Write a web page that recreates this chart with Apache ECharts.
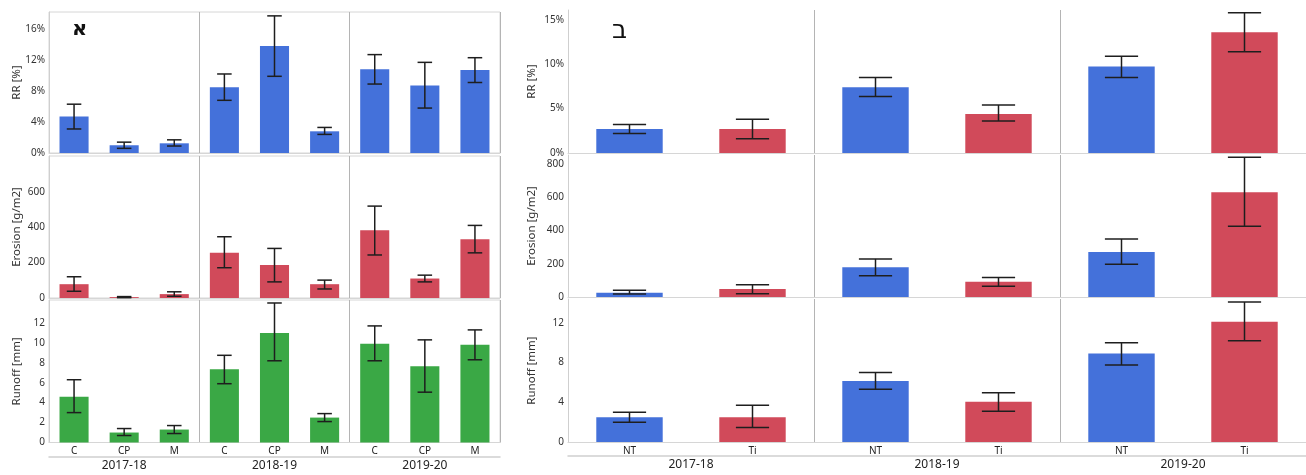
<!DOCTYPE html>
<html><head><meta charset="utf-8">
<script src="https://cdn.jsdelivr.net/npm/echarts@6/dist/echarts.min.js"></script>
<style>html,body{margin:0;padding:0;background:#fff}#c{width:1306px;height:475px}</style>
</head><body><div id="c"></div><script>
// ---------- DATA ----------
const years = ['2017-18', '2018-19', '2019-20'];
const leftCats = ['C', 'CP', 'M'];
const rightCats = ['NT', 'Ti'];

// Panel A (left): 3 treatments x 3 years
const leftRRMean = [4.7, 1.0, 1.25, 8.5, 13.8, 2.8, 10.8, 8.7, 10.7];
const leftRRLow  = [3.1, 0.6, 0.9, 6.8, 9.9, 2.4, 8.9, 5.8, 9.1];
const leftRRHigh = [6.3, 1.4, 1.7, 10.2, 17.7, 3.3, 12.7, 11.7, 12.3];

const leftErosionMean = [78, 5, 22, 256, 186, 78, 382, 110, 332];
const leftErosionLow  = [38, 2, 10, 171, 91, 51, 243, 91, 255];
const leftErosionHigh = [120, 8, 35, 346, 280, 101, 519, 129, 410];

const leftRunoffMean = [4.6, 1.0, 1.3, 7.35, 11.0, 2.5, 9.9, 7.65, 9.8];
const leftRunoffLow  = [3.0, 0.7, 0.9, 5.9, 8.2, 2.1, 8.2, 5.05, 8.3];
const leftRunoffHigh = [6.3, 1.4, 1.7, 8.75, 14.0, 2.9, 11.7, 10.3, 11.3];

// Panel B (right): 2 treatments x 3 years
const rightRRMean = [2.7, 2.7, 7.4, 4.4, 9.75, 13.6];
const rightRRLow  = [2.2, 1.6, 6.35, 3.6, 8.5, 11.4];
const rightRRHigh = [3.2, 3.8, 8.5, 5.4, 10.9, 15.8];

const rightErosionMean = [26, 48, 179, 92, 271, 630];
const rightErosionLow  = [18, 20, 128, 64, 197, 425];
const rightErosionHigh = [40, 74, 229, 118, 349, 840];

const rightRunoffMean = [2.5, 2.5, 6.15, 4.05, 8.9, 12.1];
const rightRunoffLow  = [2.0, 1.45, 5.3, 3.1, 7.75, 10.2];
const rightRunoffHigh = [3.0, 3.7, 7.0, 4.95, 10.0, 14.1];

const rowNames = ['RR [%]', 'Erosion [g/m2]', 'Runoff [mm]'];
const panelLetters = ['א', 'ב'];

// ---------- STYLE / LAYOUT ----------
const FONT = 'Noto Sans';
const BLUE = '#4471da', RED = '#d14a5a', GREEN = '#3aa845';
const ERR = '#1e1e1e';

const panels = [
  {
    cats: leftCats, left: 49, width: 451, border: true, nameGap: 26, barPct: 0.58,
    rowColors: [BLUE, RED, GREEN], catColors: null,
    rows: [
      {top: 12, height: 141, max: 18.2, interval: 4, labelMax: 16, suffix: '%', mean: leftRRMean, lo: leftRRLow, hi: leftRRHigh},
      {top: 156, height: 142, max: 802, interval: 200, labelMax: 600, suffix: '', manualLabels: true, mean: leftErosionMean, lo: leftErosionLow, hi: leftErosionHigh},
      {top: 300, height: 142.5, max: 14.3, interval: 2, labelMax: 12, suffix: '', mean: leftRunoffMean, lo: leftRunoffLow, hi: leftRunoffHigh}
    ]
  },
  {
    cats: rightCats, left: 568, width: 738, border: false, nameGap: 30, barPct: 0.54,
    rowColors: null, catColors: [BLUE, RED],
    rows: [
      {top: 10, height: 143, max: 16.1, interval: 5, labelMax: 15, suffix: '%', mean: rightRRMean, lo: rightRRLow, hi: rightRRHigh},
      {top: 155, height: 142, max: 854, interval: 200, labelMax: 800, suffix: '', mean: rightErosionMean, lo: rightErosionLow, hi: rightErosionHigh},
      {top: 299, height: 143, max: 14.4, interval: 4, labelMax: 12, suffix: '', mean: rightRunoffMean, lo: rightRunoffLow, hi: rightRunoffHigh}
    ]
  }
];

const grids = [], xAxes = [], yAxes = [], series = [];
const manual = [];

panels.forEach((p, pi) => {
  const cats = [];
  years.forEach(y => p.cats.forEach(c => cats.push(y + '|' + c)));
  const n = p.cats.length;
  p.rows.forEach((r, ri) => {
    const gi = grids.length;
    const last = ri === p.rows.length - 1;
    grids.push({left: p.left, width: p.width, top: r.top, height: r.height,
      show: p.border, borderColor: '#d6d6d6', borderWidth: 1});
    xAxes.push({
      type: 'category', gridIndex: gi, data: cats, boundaryGap: true,
      axisLine: {show: true, lineStyle: {color: '#d6d6d6', width: 1}},
      axisTick: {show: false},
      axisLabel: {show: last, interval: 0, formatter: v => v.split('|')[1],
        fontFamily: FONT, fontSize: 10, color: '#222', margin: 4},
      splitLine: {show: true, interval: (i) => i > 0 && i % n === 0,
        lineStyle: {color: '#b4b4b4', width: 1}}
    });
    const xi = xAxes.length - 1;
    if (last) {
      xAxes.push({
        type: 'category', gridIndex: gi, data: years, position: 'bottom', offset: 14,
        axisLine: {show: true, lineStyle: {color: '#cfcfcf', width: 1.5}},
        axisTick: {show: false}, splitLine: {show: false},
        axisLabel: {fontFamily: FONT, fontSize: 12, color: '#222', margin: 3}
      });
    }
    const yi = yAxes.length;
    if (r.manualLabels) manual.push({yi: yi, left: p.left, r: r});
    yAxes.push({
      type: 'value', gridIndex: gi, min: 0, max: r.max, interval: r.interval,
      name: rowNames[ri], nameLocation: 'middle', nameGap: p.nameGap, nameRotate: 90,
      nameMoveOverlap: false,
      nameTextStyle: {fontFamily: FONT, fontSize: 11.5, color: '#333'},
      axisLine: {show: true, lineStyle: {color: '#cfcfcf'}},
      axisTick: {show: false}, splitLine: {show: false},
      axisLabel: {show: !r.manualLabels, fontFamily: FONT, fontSize: 10, color: '#333', margin: 4,
        formatter: v => {
          const k = v / r.interval;
          if (Math.abs(k - Math.round(k)) > 1e-6 || v > r.labelMax + 1e-9) return '';
          return String(Math.round(v)) + r.suffix;
        }}
    });
    series.push({
      type: 'bar', xAxisIndex: xi, yAxisIndex: yi, barWidth: (p.barPct * 100) + '%',
      silent: true, animation: false,
      data: r.mean.map((v, i) => ({
        value: v,
        itemStyle: {color: p.rowColors ? p.rowColors[ri] : p.catColors[i % n]}
      }))
    });
    const barPct = p.barPct;
    series.push({
      type: 'custom', xAxisIndex: xi, yAxisIndex: yi, silent: true, animation: false, z: 10,
      encode: {x: 0, y: [1, 2]},
      data: r.mean.map((v, i) => [i, r.lo[i], r.hi[i]]),
      renderItem: (params, api) => {
        const x = api.value(0);
        const pHi = api.coord([x, api.value(2)]);
        const pLo = api.coord([x, api.value(1)]);
        const band = api.size([1, 0])[0];
        const cw = band * barPct * 0.5;
        const st = {stroke: ERR, lineWidth: 1.5};
        return {type: 'group', children: [
          {type: 'line', shape: {x1: pHi[0], y1: pHi[1], x2: pLo[0], y2: pLo[1]}, style: st},
          {type: 'line', shape: {x1: pHi[0] - cw / 2, y1: pHi[1], x2: pHi[0] + cw / 2, y2: pHi[1]}, style: st},
          {type: 'line', shape: {x1: pLo[0] - cw / 2, y1: pLo[1], x2: pLo[0] + cw / 2, y2: pLo[1]}, style: st}
        ]};
      }
    });
  });
});

const letters = [
  {type: 'text', left: 72, top: 19, style: {text: panelLetters[0], fontFamily: 'DejaVu Sans', fontWeight: 'bold', fontSize: 21, fill: '#111'}},
  {type: 'text', left: 612, top: 18, style: {text: panelLetters[1], fontFamily: 'DejaVu Sans', fontSize: 26, fill: '#111'}}
];

const chart = echarts.init(document.getElementById('c'), null, {renderer: 'canvas'});
chart.setOption({
  animation: false,
  grid: grids, xAxis: xAxes, yAxis: yAxes, series: series,
  graphic: letters
});

// tick labels placed through the axis scale (top layer)
const extra = [];
manual.forEach(m => {
  for (let v = 0; v <= m.r.labelMax + 1e-9; v += m.r.interval) {
    const py = chart.convertToPixel({yAxisIndex: m.yi}, v);
    if (typeof py === 'number' && isFinite(py)) {
      extra.push({type: 'text', x: m.left - 4, y: py, silent: true, zlevel: 5, z: 200,
        style: {text: String(Math.round(v)) + m.r.suffix, align: 'right', verticalAlign: 'middle',
          fontFamily: FONT, fontSize: 10, fill: '#333'}});
    }
  }
});
if (extra.length) chart.setOption({graphic: letters.concat(extra)});
</script></body></html>
